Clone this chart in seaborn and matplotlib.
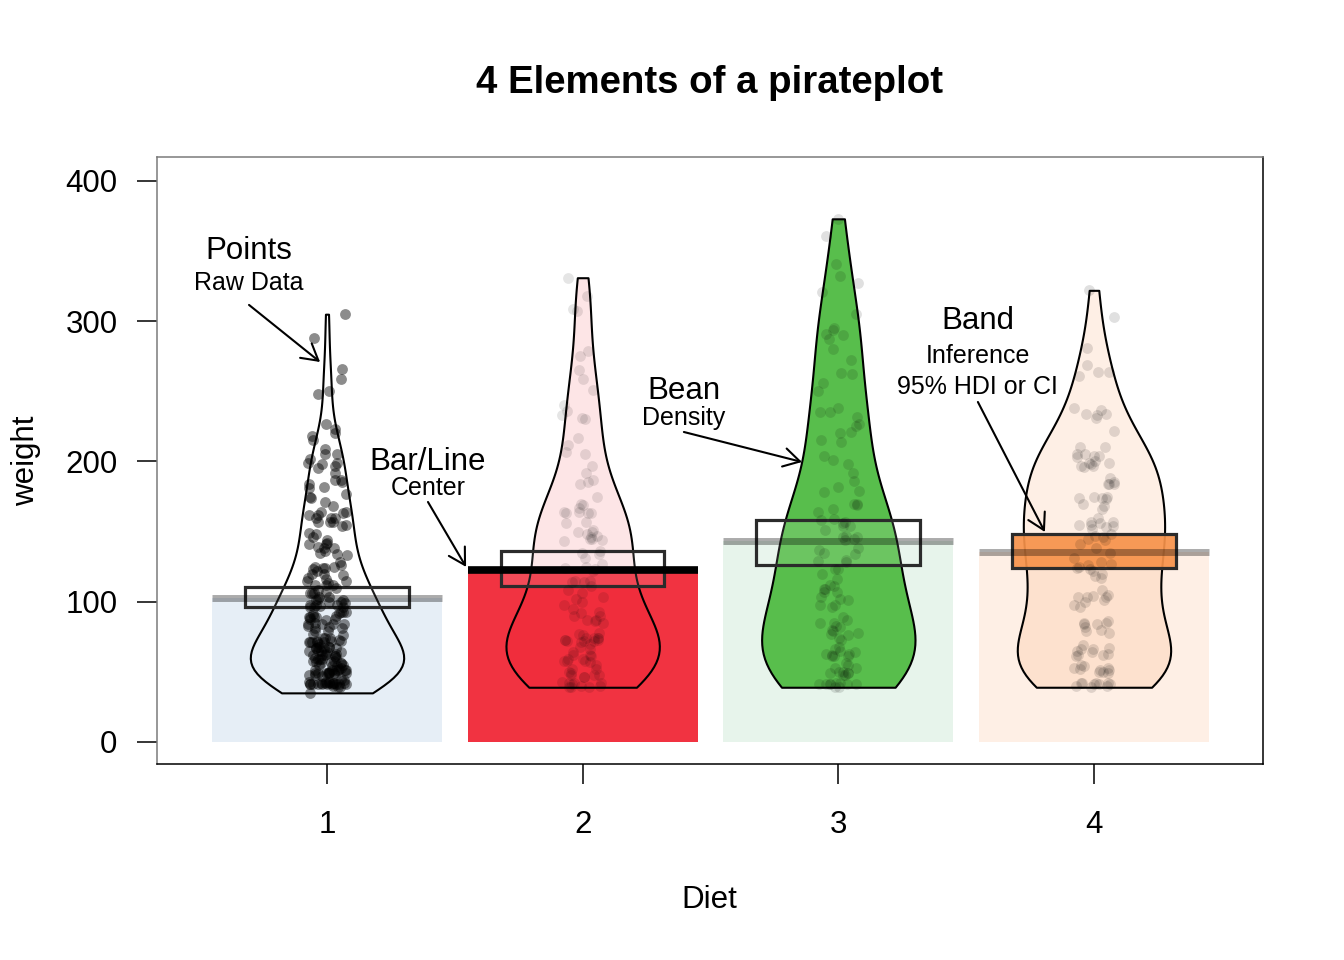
import numpy as np
import pandas as pd
import matplotlib
matplotlib.use("Agg")
import matplotlib.pyplot as plt
from matplotlib.colors import to_rgba
from matplotlib.patches import Rectangle
import seaborn as sns

# chick weights by diet
diets = ["1", "2", "3", "4"]

weight_diet1 = [
    42, 51, 59, 64, 76, 93, 106, 125, 149, 171, 199, 205,
    40, 49, 58, 72, 84, 103, 122, 138, 162, 187, 209, 215,
    43, 39, 55, 67, 84, 99, 115, 138, 163, 187, 198, 202,
    42, 49, 56, 67, 74, 87, 102, 108, 136, 154, 160, 157,
    41, 42, 48, 60, 79, 106, 141, 164, 197, 199, 220, 223,
    41, 49, 59, 74, 97, 124, 141, 148, 155, 160, 160, 157,
    41, 49, 57, 71, 89, 112, 146, 174, 218, 250, 288, 305,
    42, 50, 61, 71, 84, 93, 110, 116, 126, 134, 125,
    42, 51, 59, 68, 85, 96, 90, 92, 93, 100, 100, 98,
    41, 44, 52, 63, 74, 81, 89, 96, 101, 112, 120, 124,
    43, 51, 63, 84, 112, 139, 168, 177, 182, 184, 181, 175,
    41, 49, 56, 62, 72, 88, 119, 135, 162, 185, 195, 205,
    41, 48, 53, 60, 65, 67, 71, 70, 71, 81, 91, 96,
    41, 49, 62, 79, 101, 128, 164, 192, 227, 248, 259, 266,
    41, 49, 56, 64, 68, 68, 67, 68,
    41, 45, 49, 51, 57, 51, 54,
    42, 51, 61, 72, 83, 89, 98, 103, 113, 123, 133, 142,
    39, 35,
    43, 48, 55, 62, 65, 71, 82, 88, 106, 120, 144, 157,
    41, 47, 54, 58, 65, 73, 77, 89, 98, 107, 115, 117,
]
weight_diet2 = [
    40, 50, 62, 86, 125, 163, 217, 240, 275, 307, 318, 331,
    41, 55, 64, 77, 90, 95, 108, 111, 131, 148, 164, 167,
    43, 52, 61, 73, 90, 103, 127, 135, 145, 163, 170, 175,
    42, 52, 58, 74, 66, 68, 70, 71, 72, 72, 76, 74,
    40, 49, 62, 78, 102, 124, 146, 164, 197, 231, 259, 265,
    42, 48, 57, 74, 93, 114, 136, 147, 169, 205, 236, 251,
    39, 46, 58, 73, 87, 100, 115, 123, 144, 163, 185, 192,
    39, 46, 58, 73, 92, 114, 145, 156, 184, 207, 212, 233,
    39, 48, 59, 74, 87, 106, 134, 150, 187, 230, 279, 309,
    42, 48, 59, 72, 85, 98, 115, 122, 143, 151, 157, 150,
]
weight_diet3 = [
    42, 53, 62, 73, 85, 102, 123, 138, 170, 204, 235, 256,
    41, 49, 65, 82, 107, 129, 159, 179, 221, 263, 291, 305,
    39, 50, 63, 77, 96, 111, 137, 144, 151, 146, 156, 147,
    41, 49, 63, 85, 107, 134, 164, 186, 235, 294, 327, 341,
    41, 53, 64, 87, 123, 158, 201, 238, 287, 332, 361, 373,
    39, 48, 61, 76, 98, 116, 145, 166, 198, 227, 225, 220,
    41, 48, 56, 68, 80, 83, 103, 112, 135, 157, 169, 178,
    41, 49, 61, 74, 98, 109, 128, 154, 192, 232, 280, 290,
    42, 50, 61, 78, 89, 109, 130, 146, 170, 214, 250, 272,
    41, 55, 66, 79, 101, 120, 154, 182, 215, 262, 295, 321,
]
weight_diet4 = [
    42, 51, 66, 85, 103, 124, 155, 153, 175, 184, 199, 204,
    42, 49, 63, 84, 103, 126, 160, 174, 204, 234, 269, 281,
    42, 55, 69, 96, 131, 157, 184, 188, 197, 198, 199, 200,
    42, 51, 65, 86, 103, 118, 127, 138, 145, 146,
    41, 50, 61, 78, 98, 117, 135, 141, 147, 174, 197, 196,
    40, 52, 62, 82, 101, 120, 144, 156, 173, 210, 231, 238,
    41, 53, 66, 79, 100, 123, 148, 157, 168, 185, 210, 205,
    39, 50, 62, 80, 104, 125, 154, 170, 222, 261, 303, 322,
    40, 53, 64, 85, 108, 128, 152, 166, 184, 203, 233, 237,
    41, 54, 67, 84, 105, 122, 155, 175, 205, 234, 264, 264,
]
weights = [weight_diet1, weight_diet2, weight_diet3, weight_diet4]

# 95% inference band limits
band_lo = [96.5, 111.0, 126.0, 124.0]
band_hi = [110.5, 136.5, 158.5, 148.5]

df = pd.DataFrame({
    "Diet": np.repeat(diets, [len(w) for w in weights]),
    "weight": np.concatenate(weights),
})
means = df.groupby("Diet")["weight"].mean().reindex(diets).values

# styling per diet
bar_col = ["#0C5BB0", "#EE0011", "#15983D", "#FA6B09"]
bar_alpha = [0.1, 0.8, 0.1, 0.1]
bean_col = ["#FFFFFF", "#EE0011", "#58BE4C", "#FA6B09"]
bean_alpha = [0.0, 0.1, 1.0, 0.1]
point_alpha = [0.45, 0.1, 0.12, 0.12]
band_col = ["#FFFFFF", "#FFFFFF", "#FFFFFF", "#F7924A"]
band_alpha = [0.12, 0.12, 0.12, 0.92]

sns.set_theme(style="white")
plt.rcParams["font.family"] = ["Liberation Sans", "DejaVu Sans"]
plt.rcParams["text.color"] = "black"
plt.rcParams["axes.labelcolor"] = "black"
plt.rcParams["xtick.color"] = "black"
plt.rcParams["ytick.color"] = "black"
np.random.seed(3)

fig, ax = plt.subplots(figsize=(13.44, 9.6), dpi=100)
fig.subplots_adjust(left=0.1168, right=0.9397, top=0.8365, bottom=0.2042)

# bars
sns.barplot(data=df, x="Diet", y="weight", order=diets, hue="Diet",
            palette=bar_col, errorbar=None, width=0.9, saturation=1,
            linewidth=0, legend=False, ax=ax)
for patch, c, a in zip(ax.patches, bar_col, bar_alpha):
    patch.set_facecolor(to_rgba(c, a))
    patch.set_edgecolor("none")
    patch.set_zorder(1)

# beans
n0 = len(ax.collections)
sns.violinplot(data=df, x="Diet", y="weight", order=diets, hue="Diet",
               palette=bean_col, cut=0, density_norm="width", width=0.6,
               inner=None, bw_adjust=0.9, linewidth=1.5, linecolor="black",
               saturation=1, legend=False, ax=ax)
for coll, c, a in zip(ax.collections[n0:], bean_col, bean_alpha):
    coll.set_facecolor(to_rgba(c, a))
    coll.set_edgecolor("black")
    coll.set_zorder(2)

# bands
for i in range(4):
    ax.add_patch(Rectangle((i - 0.32, band_lo[i]), 0.64, band_hi[i] - band_lo[i],
                           facecolor=to_rgba(band_col[i], band_alpha[i]),
                           edgecolor="#2b2b2b", linewidth=2.3, zorder=3))

# average lines
for i in range(4):
    if i == 1:
        ax.hlines(means[i], i - 0.45, i + 0.45, color="black", linewidth=5.5, zorder=4)
    else:
        ax.hlines(means[i], i - 0.45, i + 0.45, color="black", alpha=0.33,
                  linewidth=5, zorder=4)

# points
for i, d in enumerate(diets):
    sns.stripplot(data=df[df["Diet"] == d], x="Diet", y="weight", order=diets,
                  color="black", alpha=point_alpha[i], size=7.8, jitter=0.08,
                  linewidth=0, zorder=5, ax=ax)

ax.set_xlim(-0.665, 3.661)
ax.set_ylim(-15.7, 417.1)
ax.set_yticks([0, 100, 200, 300, 400])
ax.set_xlabel("")
ax.set_ylabel("")
ax.tick_params(axis="both", length=14.4, width=1.1, direction="out",
               labelsize=22.5, color="black", labelcolor="black",
               left=True, bottom=True)
ax.tick_params(axis="y", pad=14)
ax.tick_params(axis="x", pad=19)
for side in ["left", "top"]:
    ax.spines[side].set_color("#7a7a7a")
for side in ["right", "bottom"]:
    ax.spines[side].set_color("black")
for sp in ax.spines.values():
    sp.set_linewidth(1.1)

fig.text(0.528, 0.914, "4 Elements of a pirateplot", ha="center", va="center",
         fontsize=27.6, fontweight="bold", color="black")
fig.text(0.528, 0.0625, "Diet", ha="center", va="center", fontsize=22.5, color="black")
fig.text(0.0195, 0.52, "weight", ha="center", va="center", rotation=90,
         fontsize=22.5, color="black")

# element labels
big = 22.5
small = 18
arrow = dict(arrowstyle="->, head_length=0.4, head_width=0.23", color="black",
             lw=1.5, mutation_scale=29, shrinkA=0, shrinkB=0)

ax.text(-0.305, 350.1, "Points", ha="center", va="center", fontsize=big)
ax.text(-0.305, 327.3, "Raw Data", ha="center", va="center", fontsize=small)
ax.annotate("", xy=(-0.027, 270.9), xytext=(-0.305, 311.6), arrowprops=arrow)

ax.text(0.395, 199.6, "Bar/Line", ha="center", va="center", fontsize=big)
ax.text(0.395, 181.1, "Center", ha="center", va="center", fontsize=small)
ax.annotate("", xy=(0.544, 124.8), xytext=(0.395, 171.1), arrowprops=arrow)

ax.text(1.396, 250.3, "Bean", ha="center", va="center", fontsize=big)
ax.text(1.396, 231.0, "Density", ha="center", va="center", fontsize=small)
ax.annotate("", xy=(1.858, 199.6), xytext=(1.396, 221.0), arrowprops=arrow)

ax.text(2.546, 300.2, "Band", ha="center", va="center", fontsize=big)
ax.text(2.546, 275.2, "Inference", ha="center", va="center", fontsize=small)
ax.text(2.546, 253.1, "95% HDI or CI", ha="center", va="center", fontsize=small)
ax.annotate("", xy=(2.808, 149.7), xytext=(2.546, 242.4), arrowprops=arrow)

fig.savefig("out.png", dpi=100)
